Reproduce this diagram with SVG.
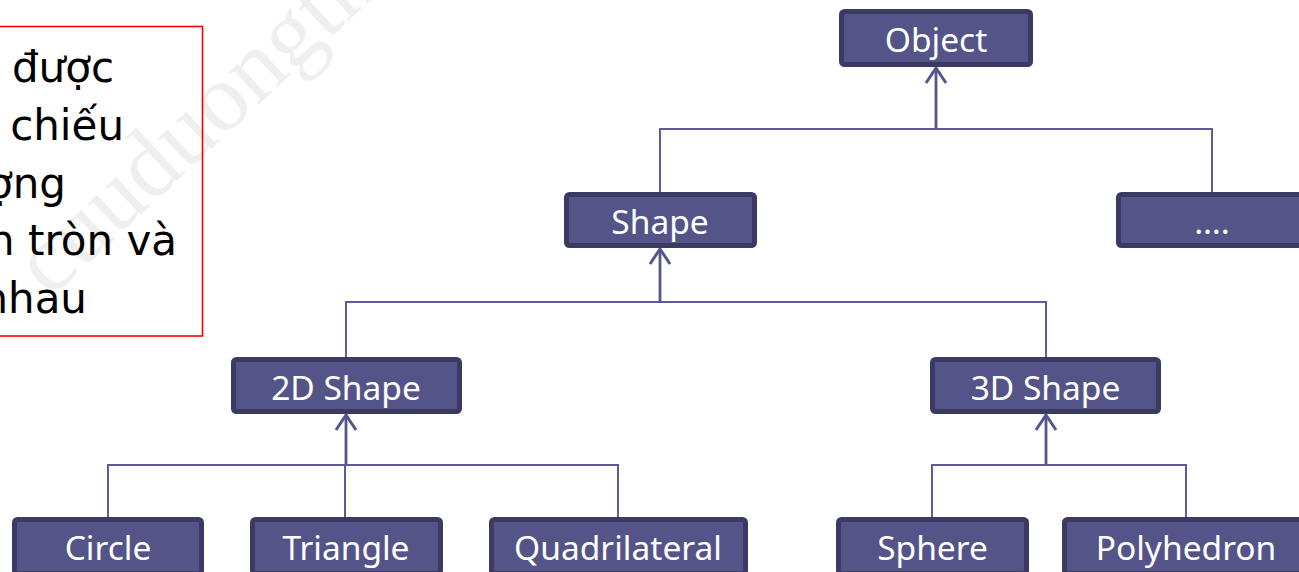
<svg xmlns="http://www.w3.org/2000/svg" width="1299" height="572" viewBox="0 0 1299 572">
<defs>
<style>
.node rect{fill:#545489;stroke:#3b3a62;stroke-width:5}
.node text{fill:#ffffff;font-family:"Noto Sans","DejaVu Sans",sans-serif;font-size:33.5px;text-anchor:middle}
.conn{fill:none;stroke:#5c5c9a;stroke-width:2}
.stem{fill:none;stroke:#56568f;stroke-width:2.8}
.note{font-family:"DejaVu Sans","Noto Sans",sans-serif;font-size:42px;fill:#000000;text-anchor:end}
</style>
<marker id="arr" viewBox="0 0 20 24" refX="18" refY="12" markerWidth="20" markerHeight="24" markerUnits="userSpaceOnUse" orient="auto">
<path d="M3,2 L18,12 L3,22" fill="none" stroke="#56568f" stroke-width="3"/>
</marker>
</defs>
<rect width="1299" height="572" fill="#ffffff"/>
<text transform="translate(50,299) rotate(-43)" font-family="Liberation Serif, serif" font-size="96" fill="#efefef">cuuduongthancong.com</text>
<g id="note">
<rect x="-10" y="26.5" width="212.5" height="309.5" fill="none" stroke="#ff0000" stroke-width="1.6"/>
<text class="note" x="114" y="82">được</text>
<text class="note" x="124" y="140">chiếu</text>
<text class="note" x="66" y="197.5">ợng</text>
<text class="note" x="177" y="255">n tròn và</text>
<text class="note" x="87" y="313">nhau</text>
</g>
<g id="connectors">
<path class="conn" d="M660,192 V129 H1212 V192"/>
<path class="stem" d="M936,129 V68" marker-end="url(#arr)"/>
<path class="conn" d="M346,357 V302 H1046 V357"/>
<path class="stem" d="M660,302 V249" marker-end="url(#arr)"/>
<path class="conn" d="M108,517 V465 H618 V517"/>
<path class="conn" d="M345,465 V517"/>
<path class="stem" d="M346,465 V415" marker-end="url(#arr)"/>
<path class="conn" d="M932,517 V465 H1186 V517"/>
<path class="stem" d="M1046,465 V415" marker-end="url(#arr)"/>
</g>
<g id="object" class="node"><rect x="841.5" y="11.5" width="189" height="53" rx="3"/><text x="936" y="52">Object</text></g>
<g id="shape" class="node"><rect x="566.5" y="194.5" width="188" height="51" rx="3"/><text x="660" y="234">Shape</text></g>
<g id="more" class="node"><rect x="1118.5" y="194.5" width="188" height="51" rx="3"/><text x="1212" y="234">….</text></g>
<g id="shape2d" class="node"><rect x="233.5" y="359.5" width="226" height="52" rx="3"/><text x="346" y="399.5">2D Shape</text></g>
<g id="shape3d" class="node"><rect x="932.5" y="359.5" width="226" height="52" rx="3"/><text x="1045.5" y="399.5">3D Shape</text></g>
<g id="circle" class="node"><rect x="14.5" y="519.5" width="187" height="54" rx="3"/><text x="108" y="559.5">Circle</text></g>
<g id="triangle" class="node"><rect x="252.5" y="519.5" width="188" height="54" rx="3"/><text x="346" y="559.5">Triangle</text></g>
<g id="quadrilateral" class="node"><rect x="491.5" y="519.5" width="254" height="54" rx="3"/><text x="618" y="559.5">Quadrilateral</text></g>
<g id="sphere" class="node"><rect x="838.5" y="519.5" width="188" height="54" rx="3"/><text x="932.5" y="559.5">Sphere</text></g>
<g id="polyhedron" class="node"><rect x="1064.5" y="519.5" width="244" height="54" rx="3"/><text x="1186" y="559.5">Polyhedron</text></g>
</svg>
